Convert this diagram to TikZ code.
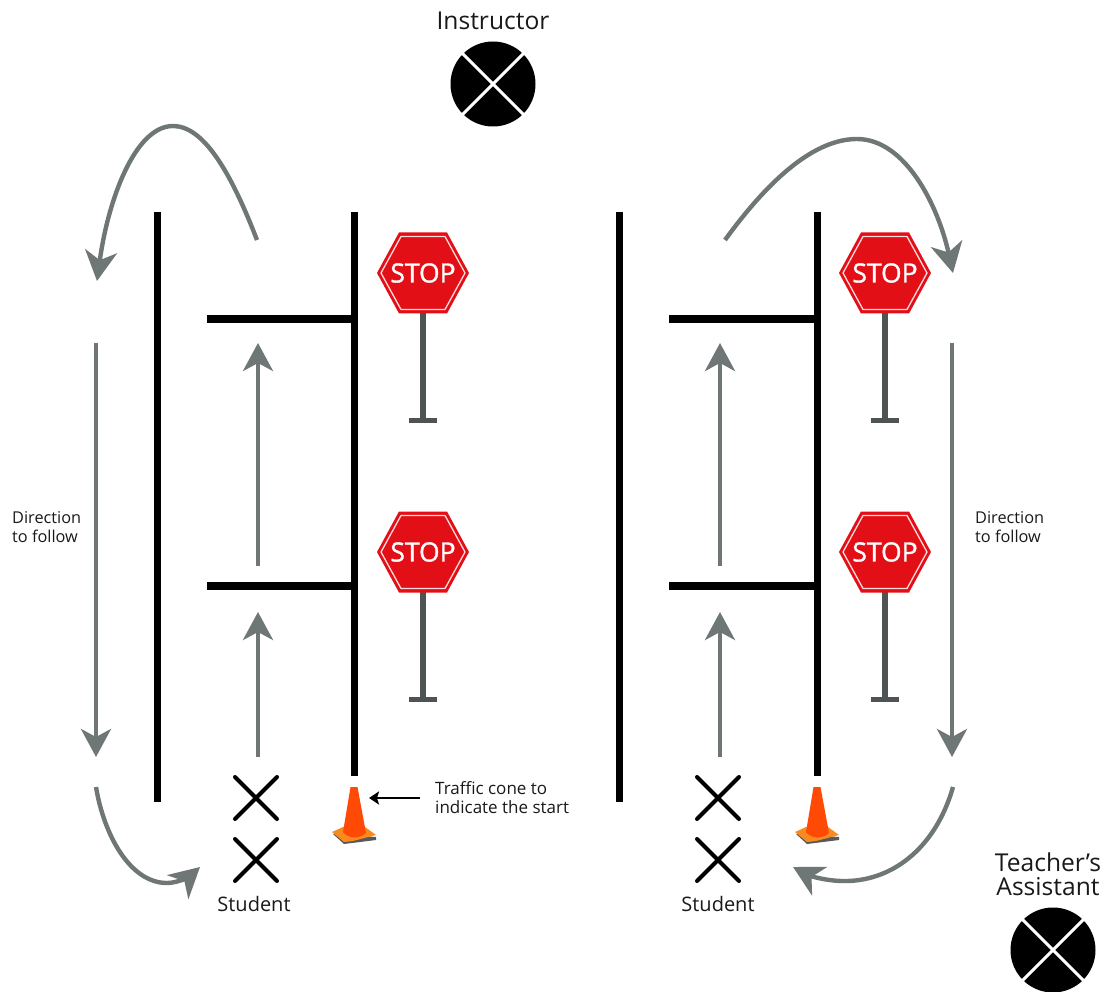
\documentclass[tikz,border=0pt]{standalone}
\usepackage{fontspec}
\setmainfont{Open Sans}
\newfontfamily\stopfont[FakeBold=1.3]{Open Sans}
\usetikzlibrary{arrows.meta}
\definecolor{flow}{HTML}{6E7775}
\definecolor{pole}{HTML}{4D5453}
\definecolor{stopred}{HTML}{E30F17}
\definecolor{coneor}{HTML}{FF4A05}
\definecolor{conebase}{HTML}{F98A1F}
\tikzset{
  x=1pt,y=-1pt,
  barv/.style={line width=7pt,black},
  barh/.style={line width=8.5pt,black},
  flowline/.style={draw=flow,line width=4.2pt,-{Stealth[length=28pt,width=30pt,inset=8pt]}},
  curveline/.style={draw=flow,line width=4.4pt,-{Stealth[length=30pt,width=32pt,inset=9pt]}},
  lab/.style={inner sep=0pt,font=\fontsize{16.3}{19}\selectfont,align=left,text=black!90},
  midl/.style={inner sep=0pt,font=\fontsize{20}{22}\selectfont,align=center,text=black!90},
  bigl/.style={inner sep=0pt,font=\fontsize{24.6}{25}\selectfont,align=center,text=black!90},
  pics/stopsign/.style={code={
    \fill[pole] (-3,38) rectangle (3,147);
    \fill[pole] (-14,145) rectangle (14,150);
    \fill[stopred] (-24,-40.5) -- (24,-40.5) -- (46,0) -- (24,40.5) -- (-24,40.5) -- (-46,0) -- cycle;
    \draw[white!85!stopred,line width=1.3pt] (-22,-36.5) -- (22,-36.5) -- (42,0) -- (22,36.5) -- (-22,36.5) -- (-42,0) -- cycle;
    \node[text=white,inner sep=0pt,font=\stopfont\fontsize{26.5}{27}\selectfont] at (0,0) {STOP};
  }},
  pics/trafficcone/.style={code={
    \fill[gray!70!black] (-21,47) -- (-10,57) -- (22,53) -- (22,50) -- cycle;
    \fill[conebase] (-22,45) -- (-11,40) -- (11,40) -- (22,48) -- (-1,54) -- (-10,55) -- cycle;
    \fill[coneor] (-3.5,0) -- (3.5,0) -- (12,46) .. controls (6,52) and (-6,52) .. (-11,45) -- cycle;
  }},
  pics/crossmark/.style={code={
    \draw[black,line width=4pt,line cap=round] (-21,-21) -- (21,21) (-21,21) -- (21,-21);
  }},
  pics/crossdisc/.style={code={
    \fill[black] (0,0) circle[radius=42.5];
    \draw[white,line width=3pt] (-31,-31) -- (31,31) (-31,31) -- (31,-31);
  }},
}
\begin{document}
\begin{tikzpicture}
\useasboundingbox (0,0) rectangle (1109,992);
% coordinates
\coordinate (la1) at (157,212); \coordinate (la2) at (157,802);
\coordinate (lb1) at (354,212); \coordinate (lb2) at (354,776);
\coordinate (lh1s) at (207,319); \coordinate (lh1e) at (354,319);
\coordinate (lh2s) at (207,586); \coordinate (lh2e) at (354,586);
\coordinate (ra1) at (619,212); \coordinate (ra2) at (619,802);
\coordinate (rb1) at (817,212); \coordinate (rb2) at (817,776);
\coordinate (rh1s) at (669,319); \coordinate (rh1e) at (817,319);
\coordinate (rh2s) at (669,586); \coordinate (rh2e) at (817,586);
% bars
\draw[barv] (la1) -- (la2);
\draw[barv] (lb1) -- (lb2);
\draw[barv] (ra1) -- (ra2);
\draw[barv] (rb1) -- (rb2);
\draw[barh] (lh1s) -- (lh1e);
\draw[barh] (lh2s) -- (lh2e);
\draw[barh] (rh1s) -- (rh1e);
\draw[barh] (rh2s) -- (rh2e);
% signs
\pic at (423,273) {stopsign};
\pic at (423,552) {stopsign};
\pic at (885,273) {stopsign};
\pic at (885,552) {stopsign};
% cones
\pic at (354,787) {trafficcone};
\pic at (817,787) {trafficcone};
% crosses
\pic at (256,798) {crossmark};
\pic at (256,860) {crossmark};
\pic at (718,798) {crossmark};
\pic at (718,860) {crossmark};
% discs
\pic at (493,84) {crossdisc};
\pic at (1053,950) {crossdisc};
% straight flow arrows
\coordinate (f1s) at (258,566); \coordinate (f1e) at (258,343);
\coordinate (f2s) at (258,757); \coordinate (f2e) at (258,612);
\coordinate (f3s) at (720,566); \coordinate (f3e) at (720,343);
\coordinate (f4s) at (720,757); \coordinate (f4e) at (720,612);
\coordinate (f5s) at (96,343); \coordinate (f5e) at (96,757);
\coordinate (f6s) at (952,343); \coordinate (f6e) at (952,757);
\draw[flowline] (f1s) -- (f1e);
\draw[flowline] (f2s) -- (f2e);
\draw[flowline] (f3s) -- (f3e);
\draw[flowline] (f4s) -- (f4e);
\draw[flowline] (f5s) -- (f5e);
\draw[flowline] (f6s) -- (f6e);
% curved arrows
\coordinate (c1s) at (257,240); \coordinate (c1m) at (173,126); \coordinate (c1e) at (97,281);
\coordinate (c2s) at (725,240); \coordinate (c2m) at (857,139); \coordinate (c2e) at (953,273);
\coordinate (c3s) at (96,787); \coordinate (c3m) at (167,883); \coordinate (c3e) at (200,867);
\coordinate (c4s) at (953,787); \coordinate (c4m) at (843,881); \coordinate (c4e) at (793,867);
\draw[curveline] (c1s) .. controls (230,170) and (203,126) .. (c1m) .. controls (135,126) and (108,200) .. (c1e);
\draw[curveline] (c2s) .. controls (770,178) and (815,139) .. (c2m) .. controls (905,139) and (938,205) .. (c2e);
\draw[curveline] (c3s) .. controls (104,835) and (130,883) .. (c3m) .. controls (178,883) and (190,876) .. (c3e);
\draw[curveline] (c4s) .. controls (935,850) and (890,882) .. (c4m) .. controls (825,881) and (808,875) .. (c4e);
% labels
\node[bigl] (instr) at (493,21) {Instructor};
\node[bigl] (ta) at (1048,874) {Teacher’s\\[-1pt]Assistant};
\node[midl] (sl) at (254,904) {Student};
\node[midl] (sr) at (718,904) {Student};
\node[lab,anchor=west] (dl) at (12,527) {Direction\\to follow};
\node[lab,anchor=west] (dr) at (975,527) {Direction\\to follow};
\node[lab,anchor=west,font=\fontsize{17}{19}\selectfont] (tc) at (435,798) {Traffic cone to\\indicate the start};
\coordinate (tcp) at (369,798);
\draw[black,line width=2.2pt,-{Stealth[length=10pt,width=13pt,inset=2pt]}] ([xshift=-15pt]tc.west) -- (tcp);
\end{tikzpicture}
\end{document}
